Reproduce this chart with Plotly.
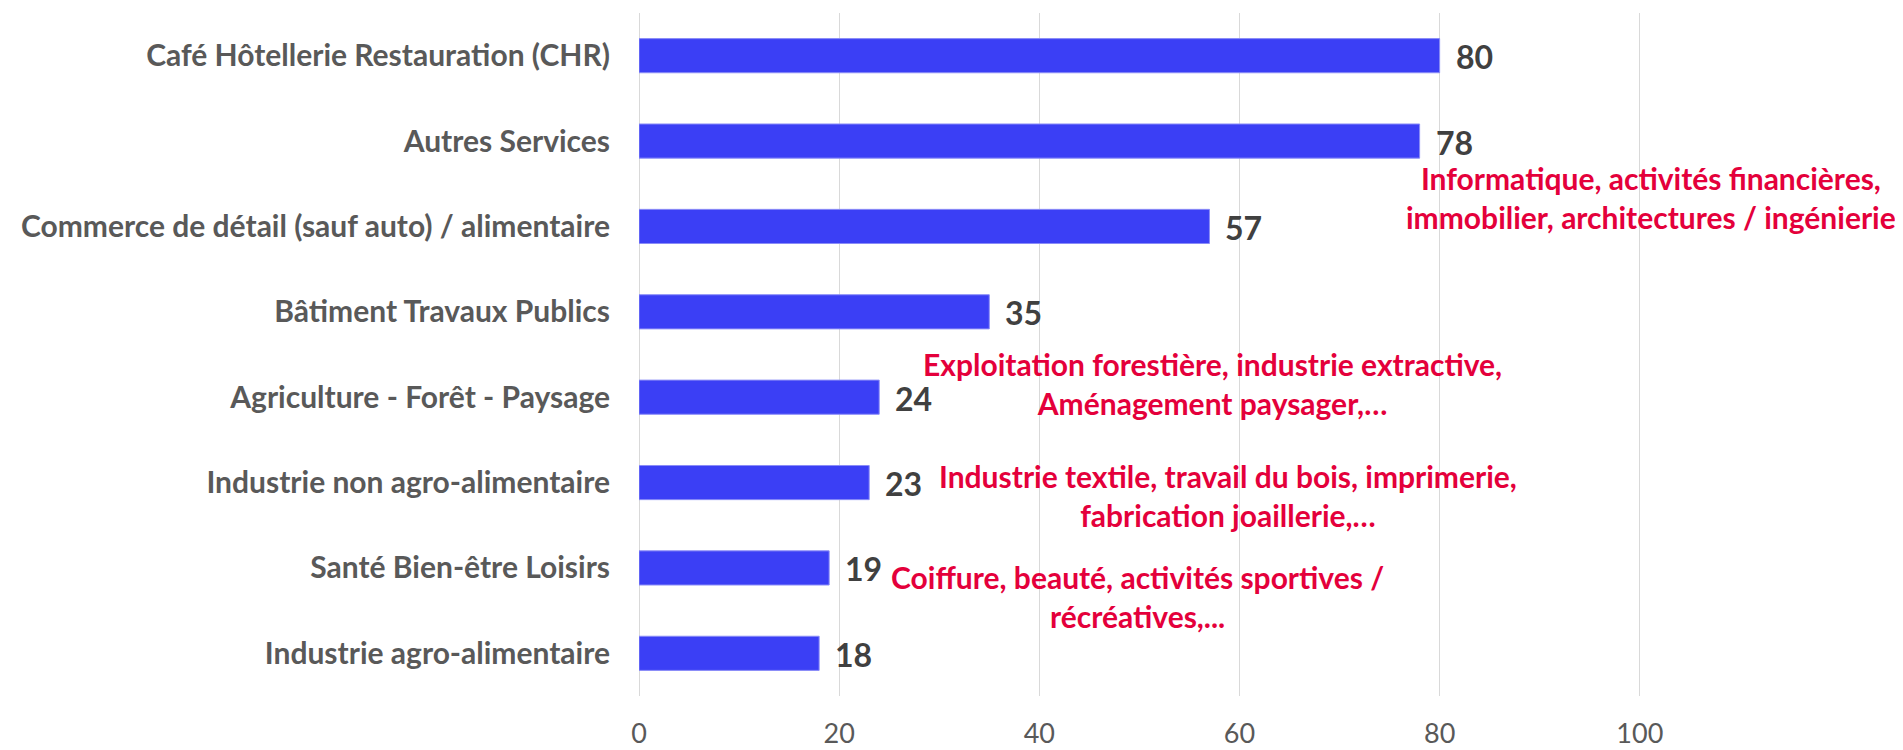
import plotly.graph_objects as go

categories = [
    "Café Hôtellerie Restauration (CHR)",
    "Autres Services",
    "Commerce de détail (sauf auto) / alimentaire",
    "Bâtiment Travaux Publics",
    "Agriculture - Forêt - Paysage",
    "Industrie non agro-alimentaire",
    "Santé Bien-être Loisirs",
    "Industrie agro-alimentaire",
]
values = [80, 78, 57, 35, 24, 23, 19, 18]
tick_values = [0, 20, 40, 60, 80, 100]

notes = [
    ("Informatique, activités financières,<br>immobilier, architectures / ingénierie", 101.1, 1.66),
    ("Exploitation forestière, industrie extractive,<br>Aménagement paysager,…", 57.3, 3.84),
    ("Industrie textile, travail du bois, imprimerie,<br>fabrication joaillerie,…", 58.9, 5.15),
    ("Coiffure, beauté, activités sportives /<br>récréatives,...", 49.8, 6.33),
]

FONT = "Lato, 'Open Sans', sans-serif"

fig = go.Figure(go.Bar(
    x=values,
    y=categories,
    orientation="h",
    marker=dict(color="#3B3FF5", line=dict(color="#8A8CF7", width=1)),
    hoverinfo="skip",
))

for v, c in zip(values, categories):
    fig.add_annotation(
        x=v, y=c, xref="x", yref="y", text=str(v), showarrow=False,
        xanchor="left", yanchor="middle", xshift=14, yshift=-1,
        font=dict(family=FONT, size=32, color="#404040", weight="bold"),
    )

for txt, x, y in notes:
    fig.add_annotation(
        x=x, y=y, xref="x", yref="y", text=txt, showarrow=False,
        font=dict(family=FONT, size=30, color="#E4003B", weight="bold"),
        align="center", xanchor="center", yanchor="middle",
    )

fig.update_layout(
    width=1903, height=750,
    margin=dict(l=631, r=18, t=5, b=62, autoexpand=False),
    paper_bgcolor="white", plot_bgcolor="white",
    bargap=0.6,
    showlegend=False,
)
fig.update_xaxes(
    range=[0, 125.3], tickvals=tick_values, ticktext=[str(t) for t in tick_values],
    showgrid=True, gridcolor="#D9D9D9", gridwidth=1,
    zeroline=True, zerolinecolor="#D9D9D9", zerolinewidth=1,
    showline=False, automargin=False,
    tickfont=dict(family=FONT, size=27, color="#595959"),
    ticklabelstandoff=19,
    fixedrange=True,
)
fig.update_yaxes(
    autorange="reversed", type="category",
    showgrid=False, showline=False, zeroline=False, automargin=False,
    tickfont=dict(family=FONT, size=30, color="#595959", weight="bold"),
    ticklabelstandoff=28,
    fixedrange=True,
)

fig.write_html("out.html")
